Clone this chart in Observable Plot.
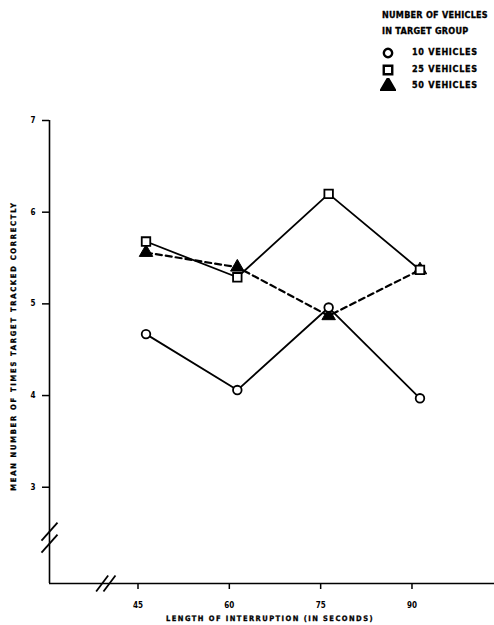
<!DOCTYPE html>
<html><head><meta charset="utf-8">
<script src="https://cdn.jsdelivr.net/npm/d3@7"></script>
<script src="https://cdn.jsdelivr.net/npm/@observablehq/plot@0.6"></script>
<style>
body{margin:0;background:#fff;}
#wrap{position:relative;width:494px;height:625px;font-family:"DejaVu Sans Condensed","Liberation Sans Narrow",sans-serif;font-weight:bold;color:#000;overflow:hidden;}
#wrap svg{position:absolute;left:0;top:0;}
.lg{position:absolute;font-size:9px;font-weight:900;letter-spacing:0.7px;white-space:nowrap;line-height:1;-webkit-text-stroke:0.3px #000;}
.lg.t{letter-spacing:0.25px;}
.sym{position:absolute;}
</style></head>
<body><div id="wrap"></div>
<script>
// ---- data ----
const intervals = [45, 60, 75, 90];
const vehicles10 = [4.67, 4.06, 4.96, 3.97];
const vehicles25 = [5.68, 5.29, 6.20, 5.37];
const vehicles50 = [5.56, 5.40, 4.87, 5.37];
const yTicks = [3, 4, 5, 6, 7];
const xTickLabels = ["45", "60", "75", "90"];
const seriesNames = ["10 VEHICLES", "25 VEHICLES", "50 VEHICLES"];
const legendTitle = ["NUMBER OF VEHICLES", "IN TARGET GROUP"];
const yTitle = "MEAN NUMBER OF TIMES TARGET TRACKED CORRECTLY";
const xTitle = "LENGTH OF INTERRUPTION (IN SECONDS)";

// ---- scale extents ----
const xMin = 29.15, xMax = 102.24;
const yMin = 1.95, yMax = 7;
const W = 494, H = 625, mL = 49, mR = 0, mT = 120, mB = 42;
const kx = (W - mL - mR) / (xMax - xMin);
const ky = (H - mT - mB) / (yMax - yMin);

const toRows = (vals, s) => intervals.map((x, i) => ({x, y: vals[i], s}));
const r10 = toRows(vehicles10, seriesNames[0]);
const r25 = toRows(vehicles25, seriesNames[1]);
const r50 = toRows(vehicles50, seriesNames[2]);

// axis break decorations (slash pairs), expressed via scale units
const yBreakAt = 2.45, xBreakAt = 38.4;
const slash = (cx, cy, ox, oy, hx, hy) => ({x1: cx + ox - hx / kx, y1: cy + oy - hy / ky, x2: cx + ox + hx / kx, y2: cy + oy + hy / ky});
const breaks = [
  slash(xMin, yBreakAt, 0, 0.065, 8, 9),
  slash(xMin, yBreakAt, 0, -0.065, 8, 9),
  slash(xBreakAt, yMin, -0.6, 0, 6, 8),
  slash(xBreakAt, yMin, 0.6, 0, 6, 8)
];

const font = {fontFamily: '"DejaVu Sans Condensed","Liberation Sans Narrow",sans-serif', fontWeight: "bold"};

const chart = Plot.plot({
  width: W, height: H,
  marginLeft: mL, marginRight: mR, marginTop: mT, marginBottom: mB,
  style: {background: "#fff", ...font, fontSize: "8px"},
  x: {domain: [xMin, xMax]},
  y: {domain: [yMin, yMax]},
  marks: [
    Plot.ruleX([xMin], {y1: yMin, y2: yMax, stroke: "#000", strokeWidth: 1.6}),
    Plot.ruleY([yMin], {x1: xMin, x2: xMax, stroke: "#000", strokeWidth: 1.6}),
    Plot.link(breaks, {x1: "x1", y1: "y1", x2: "x2", y2: "y2", stroke: "#000", strokeWidth: 1.8}),
    Plot.axisY(yTicks, {anchor: "left", tickSize: 7, tickPadding: 7, strokeWidth: 1.5, label: null, fontSize: 8, ...font, tickFormat: d => String(d)}),
    Plot.axisX(intervals, {anchor: "bottom", tickSize: 6, tickPadding: 13, strokeWidth: 1.5, label: null, fontSize: 8, ...font, dx: -8, tickFormat: (d, i) => xTickLabels[i]}),
    Plot.line(r10, {x: "x", y: "y", stroke: "#000", strokeWidth: 1.8}),
    Plot.line(r25, {x: "x", y: "y", stroke: "#000", strokeWidth: 1.8}),
    Plot.line(r50, {x: "x", y: "y", stroke: "#000", strokeWidth: 2.2, strokeDasharray: "6,4"}),
    Plot.dot(r50, {x: "x", y: "y", symbol: "triangle", r: 5, fill: "#000", stroke: "#000", strokeWidth: 1}),
    Plot.dot(r10, {x: "x", y: "y", symbol: "circle", r: 4.3, fill: "#fff", stroke: "#000", strokeWidth: 1.8}),
    Plot.dot(r25, {x: "x", y: "y", symbol: "square", r: 4.8, fill: "#fff", stroke: "#000", strokeWidth: 1.8}),
    Plot.text([yTitle], {frameAnchor: "left", textAnchor: "middle", dx: -36, dy: -6, rotate: -90, fontSize: 7.5, ...font, text: d => d, fill: "#000"}),
    Plot.text([xTitle], {frameAnchor: "bottom", textAnchor: "middle", dy: 37, dx: -2, fontSize: 7.5, ...font, text: d => d, fill: "#000"})
  ]
});
const wrap = document.getElementById("wrap");
wrap.appendChild(chart);
chart.querySelectorAll("text").forEach(t => {
  if (t.textContent === yTitle) { t.setAttribute("letter-spacing", "1.75"); t.setAttribute("stroke", "#000"); t.setAttribute("stroke-width", "0.3"); }
  if (t.textContent === xTitle) { t.setAttribute("letter-spacing", "1.45"); t.setAttribute("stroke", "#000"); t.setAttribute("stroke-width", "0.3"); }
});

// ---- legend (HTML, top right) ----
function addText(txt, left, top, cls) {
  const d = document.createElement("div");
  d.className = "lg" + (cls ? " " + cls : ""); d.textContent = txt;
  d.style.left = left + "px"; d.style.top = top + "px";
  wrap.appendChild(d);
}
addText(legendTitle[0], 382, 11, "t");
addText(legendTitle[1], 382, 27, "t");
const symbols = ["circle", "square", "triangle"];
const rowsY = [53, 70, 86];
symbols.forEach((s, i) => {
  const sv = d3.create("svg").attr("class", "sym").attr("width", 16).attr("height", 16)
    .style("left", (388 - 8) + "px").style("top", (rowsY[i] - 8) + "px");
  const sym = s === "circle" ? d3.symbolCircle : s === "square" ? d3.symbolSquare : d3.symbolTriangle;
  const size = s === "circle" ? 55 : s === "square" ? 72 : 80;
  sv.append("path").attr("transform", "translate(8,8)").attr("d", d3.symbol(sym, size)())
    .attr("fill", s === "triangle" ? "#000" : "#fff").attr("stroke", "#000").attr("stroke-width", 2.4);
  wrap.appendChild(sv.node());
  addText(seriesNames[i], 412, rowsY[i] - 5);
});
</script></body></html>
